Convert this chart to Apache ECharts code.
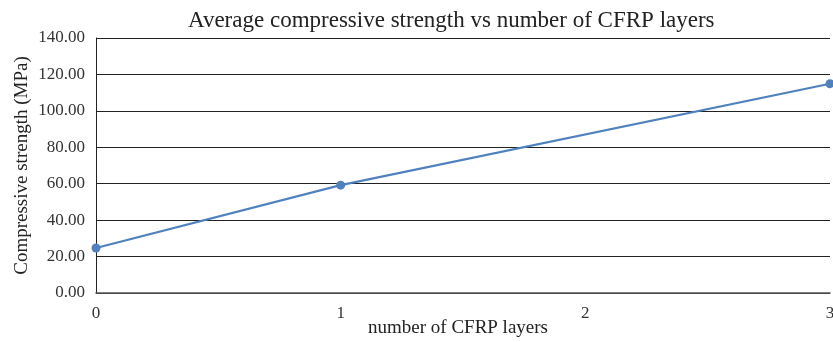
<!DOCTYPE html>
<html>
<head>
<meta charset="utf-8">
<script src="https://cdn.jsdelivr.net/npm/echarts@6/dist/echarts.min.js"></script>
<style>
  html, body { margin: 0; padding: 0; background: #fff; }
  #main { width: 833px; height: 342px; }
</style>
</head>
<body>
<div id="main"></div>
<script>
var layers = [0, 1, 3];
var strength = [24.7, 59.2, 114.9];
var yTicks = [0, 20, 40, 60, 80, 100, 120, 140];

var dom = document.getElementById('main');
var myChart = echarts.init(dom, null, { renderer: 'canvas' });

var serif = '"Liberation Serif", "Times New Roman", serif';

var option = {
  backgroundColor: '#fff',
  animation: false,
  title: {
    text: 'Average compressive strength vs number of CFRP layers',
    left: 183,
    top: 4,
    textStyle: { fontFamily: serif, fontSize: 23, fontWeight: 'normal', color: '#222' }
  },
  grid: { left: 96, right: 3, top: 38, bottom: 49, containLabel: false, outerBoundsMode: 'none' },
  xAxis: {
    type: 'value',
    min: 0,
    max: 3,
    interval: 1,
    name: 'number of CFRP layers',
    nameLocation: 'middle',
    nameGap: 26,
    nameMoveOverlap: false,
    nameTextStyle: { fontFamily: serif, fontSize: 19, color: '#222', padding: [0, 10, 0, 0] },
    axisLine: { show: true, lineStyle: { color: '#555', width: 1.5 } },
    axisTick: { show: false },
    splitLine: { show: false },
    axisLabel: { fontFamily: serif, fontSize: 17, color: '#333', margin: 12 }
  },
  yAxis: {
    type: 'value',
    min: yTicks[0],
    max: yTicks[yTicks.length - 1],
    interval: 20,
    name: 'Compressive strength (MPa)',
    nameLocation: 'middle',
    nameGap: 64,
    nameMoveOverlap: false,
    nameTextStyle: { fontFamily: serif, fontSize: 19, color: '#222' },
    axisLine: { show: true, lineStyle: { color: '#222', width: 1 } },
    axisTick: { show: false },
    splitLine: { show: true, lineStyle: { color: '#222', width: 1 } },
    axisLabel: {
      fontFamily: serif, fontSize: 17, color: '#333', margin: 11,
      formatter: function (v) { return v.toFixed(2); }
    }
  },
  series: [
    {
      type: 'line',
      data: layers.map(function (x, i) { return [x, strength[i]]; }),
      symbol: 'circle',
      symbolSize: 9,
      itemStyle: { color: '#4f81bd' },
      lineStyle: { color: '#4f81bd', width: 2.2 },
      clip: false
    }
  ]
};

myChart.setOption(option);
window.addEventListener('resize', myChart.resize);
</script>
</body>
</html>
